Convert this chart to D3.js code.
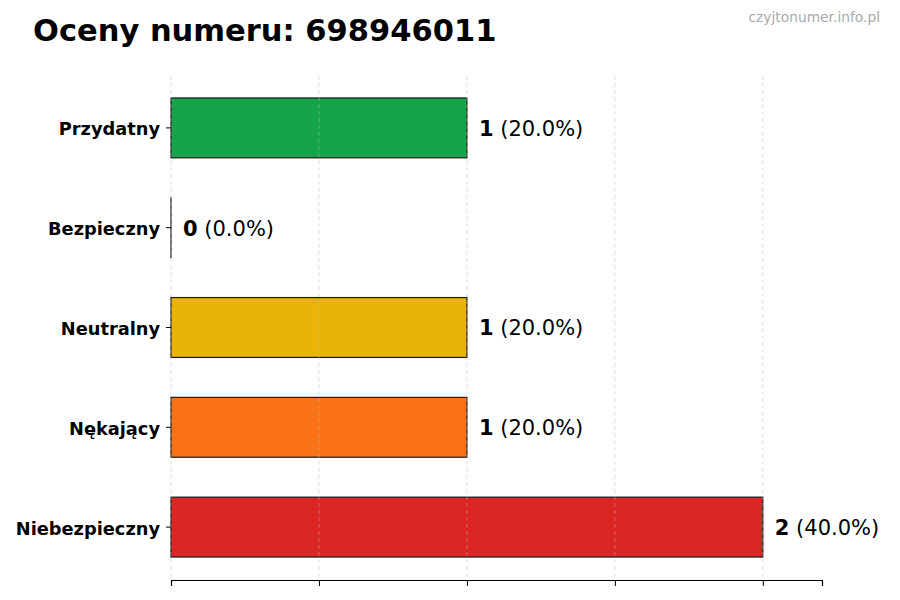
<!DOCTYPE html>
<html>
<head>
<meta charset="utf-8">
<script src="https://cdn.jsdelivr.net/npm/d3@7"></script>
<style>
  body { margin: 0; background: #fff; }
  svg { font-family: "DejaVu Sans", sans-serif; }
</style>
</head>
<body>
<div id="chart"></div>
<script>
// dane z wykresu
var categories = ['Przydatny', 'Bezpieczny', 'Neutralny', 'Nękający', 'Niebezpieczny']
var counts = [1, 0, 1, 1, 2]
var percents = ['20.0%', '0.0%', '20.0%', '20.0%', '40.0%']
var colors = ['#16a34a', '#0ea5e9', '#eab308', '#f97316', '#dc2626']
var xTicks = [0, 0.5, 1, 1.5, 2]

var width = 900, height = 600
var margin = { top: 76, right: 78, bottom: 20, left: 171 }
var innerW = width - margin.left - margin.right
var innerH = 580 - margin.top

var svg = d3.select('#chart').append('svg')
  .attr('width', width)
  .attr('height', height)

svg.append('text')
  .attr('x', 33).attr('y', 41)
  .attr('font-size', 30.5).attr('font-weight', 'bold')
  .attr('fill', '#000')
  .text('Oceny numeru: 698946011')

svg.append('text')
  .attr('x', 880).attr('y', 22)
  .attr('text-anchor', 'end')
  .attr('font-size', 13.8).attr('fill', '#aaa')
  .text('czyjtonumer.info.pl')

var x = d3.scaleLinear().domain([0, 2.2]).range([0, innerW])
var y = d3.scaleBand().domain(categories).range([2, 501]).paddingInner(0.4).paddingOuter(0.2)

var g = svg.append('g')
  .attr('transform', 'translate(' + margin.left + ',' + margin.top + ')')

// słupki (zerowy słupek też ma obrys)
g.selectAll('.bar')
  .data(categories)
  .enter().append('rect')
  .attr('class', 'bar')
  .attr('x', x(0))
  .attr('y', function (d) { return y(d) })
  .attr('width', function (d, i) { return Math.max(x(counts[i]) - x(0), 0.01) })
  .attr('height', y.bandwidth())
  .attr('fill', function (d, i) { return colors[i] })
  .attr('stroke', '#1a1a1a')
  .attr('stroke-width', 1.2)

// siatka
g.selectAll('.grid')
  .data(xTicks)
  .enter().append('line')
  .attr('class', 'grid')
  .attr('x1', function (d) { return x(d) })
  .attr('x2', function (d) { return x(d) })
  .attr('y1', 0).attr('y2', innerH)
  .attr('stroke', '#bbb')
  .attr('stroke-opacity', 0.6)
  .attr('stroke-dasharray', '4,3')
  .attr('stroke-width', 0.8)

// oś X bez etykiet
var xAxis = g.append('g')
  .attr('transform', 'translate(0,' + innerH + ')')
  .call(d3.axisBottom(x).tickValues(xTicks).tickSize(6).tickFormat(''))
xAxis.select('.domain').attr('stroke', '#000').attr('stroke-width', 1.2)
xAxis.selectAll('.tick line').attr('stroke', '#000').attr('stroke-width', 1)

// oś Y
var yAxis = g.append('g')
  .call(d3.axisLeft(y).tickSize(5).tickPadding(6))
yAxis.select('.domain').remove()
yAxis.selectAll('.tick line').attr('stroke', '#000')
yAxis.selectAll('.tick text')
  .attr('font-size', 17.8).attr('font-weight', 'bold')
  .attr('font-family', '"DejaVu Sans", sans-serif')
  .attr('fill', '#000')
  .attr('dy', '0.42em')

// etykiety wartości
var labels = g.selectAll('.val')
  .data(categories)
  .enter().append('text')
  .attr('class', 'val')
  .attr('x', function (d, i) { return x(counts[i]) + 12 })
  .attr('y', function (d) { return y(d) + y.bandwidth() / 2 })
  .attr('dy', '0.38em')
  .attr('font-size', 21)
  .attr('fill', '#000')
labels.append('tspan')
  .attr('font-weight', 'bold')
  .text(function (d, i) { return counts[i] })
labels.append('tspan')
  .text(function (d, i) { return ' (' + percents[i] + ')' })
</script>
</body>
</html>
